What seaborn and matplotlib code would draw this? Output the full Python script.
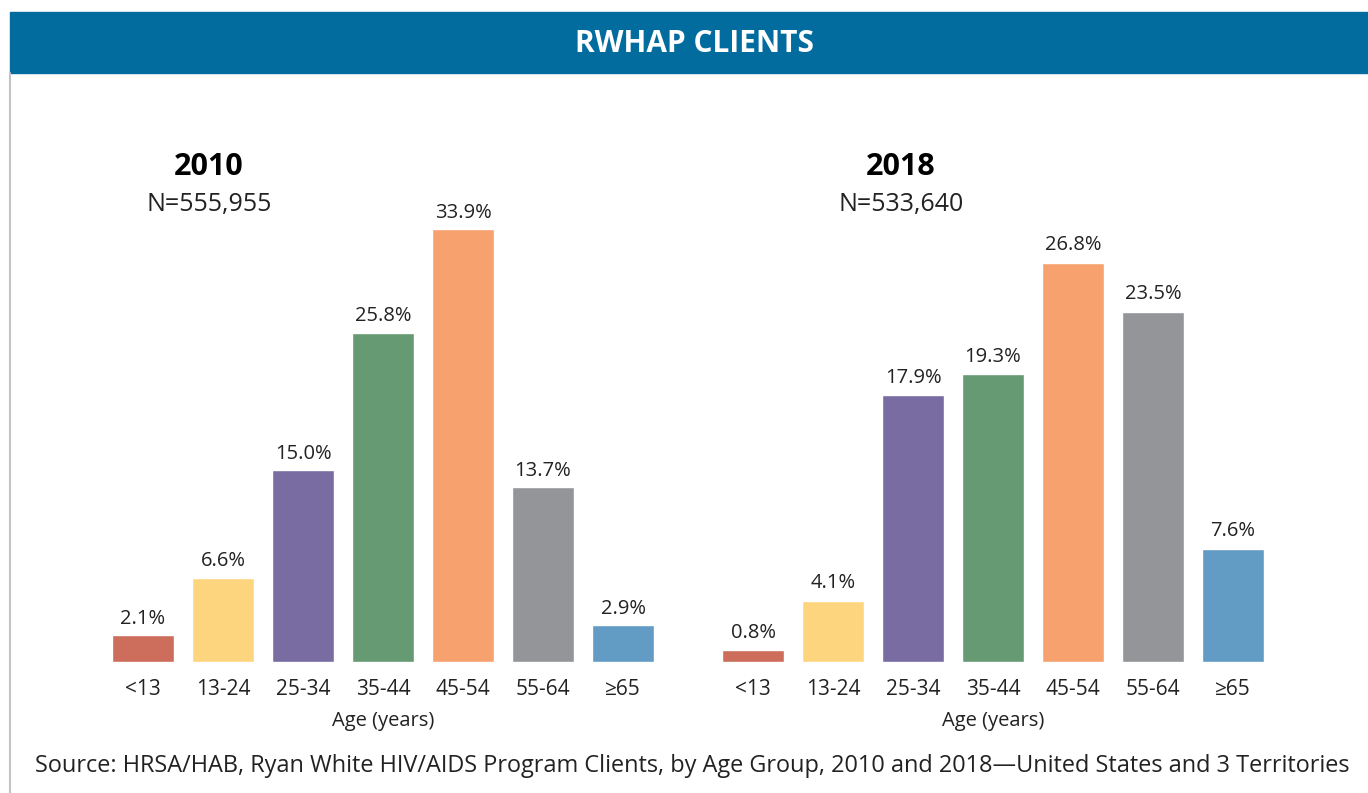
import numpy as np
import pandas as pd
import matplotlib.pyplot as plt
import seaborn as sns
from matplotlib.patches import Rectangle
from matplotlib.lines import Line2D

# data
age_groups = ['<13', '13-24', '25-34', '35-44', '45-54', '55-64', '≥65']
pct_2010 = [2.1, 6.6, 15.0, 25.8, 33.9, 13.7, 2.9]
pct_2018 = [0.8, 4.1, 17.9, 19.3, 26.8, 23.5, 7.6]
n_2010 = '555,955'
n_2018 = '533,640'
bar_colors = ['#CD6E5C', '#FDD57E', '#786CA3', '#659A72', '#F7A16F', '#939598', '#629BC3']

sns.set_style('white')
plt.rcParams['font.family'] = ['Open Sans', 'DejaVu Sans']

W, H = 1368, 793
fig = plt.figure(figsize=(W / 100, H / 100), dpi=100)

# header band
fig.add_artist(Rectangle((10 / W, 1 - 73 / H), 1 - 10 / W, 61 / H,
                         transform=fig.transFigure, color='#036C9E', zorder=0))
fig.text(694 / W, 1 - 44 / H, 'RWHAP CLIENTS', color='white', fontsize=21.5,
         fontweight='bold', ha='center', va='center')
# left border line
fig.add_artist(Line2D([10 / W, 10 / W], [0, 1 - 73 / H], transform=fig.transFigure,
                      color='#c4c4c4', lw=1.5))


def panel(left_px, scale, values, year, n, title_x):
    top_px, base_px = 100, 662
    ax = fig.add_axes([left_px / W, 1 - base_px / H, 560 / W, (base_px - top_px) / H])
    df = pd.DataFrame({'age': age_groups, 'pct': values})
    sns.barplot(data=df, x='age', y='pct', hue='age', palette=bar_colors,
                saturation=1, legend=False, width=0.78, ax=ax)
    ax.set_xlim(-0.5, 6.5)
    ax.set_ylim(0, (base_px - top_px) / scale)
    for i, v in enumerate(values):
        ax.text(i, v + 0.5, f'{v:.1f}%', ha='center', va='bottom', fontsize=14.5, color='#222222')
    ax.set_yticks([])
    ax.tick_params(axis='x', length=0, labelsize=15, pad=12, colors='#222222')
    ax.set_xlabel('Age (years)', fontsize=14.5, labelpad=8, color='#222222')
    ax.set_ylabel('')
    sns.despine(ax=ax, left=True, bottom=True)
    fig.text(title_x / W, 1 - 167 / H, year, fontsize=22, fontweight='bold',
             ha='center', va='center', color='black')
    fig.text(title_x / W, 1 - 205 / H, f'N={n}', fontsize=18,
             ha='center', va='center', color='#222222')
    return ax


panel(103, 12.77, pct_2010, '2010', n_2010, 209)
panel(713, 14.9, pct_2018, '2018', n_2018, 901)

fig.text(35 / W, 1 - 766 / H,
         'Source: HRSA/HAB, Ryan White HIV/AIDS Program Clients, by Age Group, 2010 and 2018\u2014United States and 3 Territories',
         fontsize=16.9, ha='left', va='center', color='#222222')

fig.savefig('out.png', dpi=100)
